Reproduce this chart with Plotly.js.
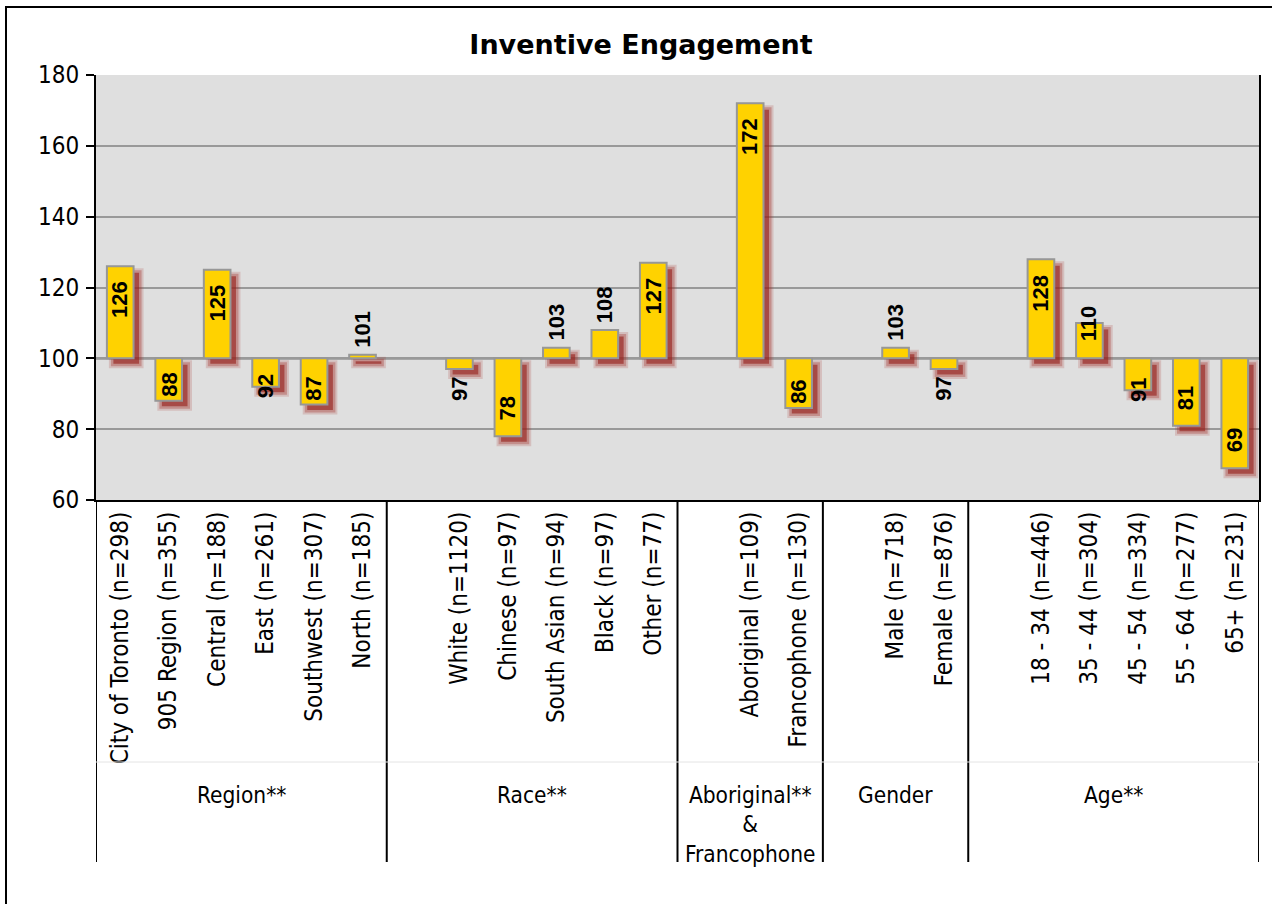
<!DOCTYPE html>
<html>
<head>
<meta charset="utf-8">
<script src="https://cdn.plot.ly/plotly-3.0.1.min.js"></script>
<style>
  html, body { margin: 0; padding: 0; background: #ffffff; }
  #chart { width: 1272px; height: 904px; }
</style>
</head>
<body>
<div id="chart"></div>
<script>
// ---- data ----
const groups = ['Region**', 'Race**', 'Aboriginal**<br>&amp;<br>Francophone', 'Gender', 'Age**'];
const categories = [
  'City of Toronto (n=298)', '905 Region (n=355)', 'Central (n=188)', 'East (n=261)', 'Southwest (n=307)', 'North (n=185)',
  'White (n=1120)', 'Chinese (n=97)', 'South Asian (n=94)', 'Black (n=97)', 'Other (n=77)',
  'Aboriginal (n=109)', 'Francophone (n=130)',
  'Male (n=718)', 'Female (n=876)',
  '18 - 34 (n=446)', '35 - 44 (n=304)', '45 - 54 (n=334)', '55 - 64 (n=277)', '65+ (n=231)'
];
const categoryGroup = [0,0,0,0,0,0, 1,1,1,1,1, 2,2, 3,3, 4,4,4,4,4];
const values = [126, 88, 125, 92, 87, 101, 97, 78, 103, 108, 127, 172, 86, 103, 97, 128, 110, 91, 81, 69];
const baseline = 100;
const yTicks = [60, 80, 100, 120, 140, 160, 180];

// ---- layout geometry ----
const W = 1272, H = 904;
const margin = {l: 96, r: 13, t: 75, b: 404};
const plotW = W - margin.l - margin.r;
const plotH = H - margin.t - margin.b;

// slot positions with a gap slot before every group except the first
const slots = [];
const gapSlots = [];
let s = -1;
categories.forEach((c, i) => {
  if (i > 0 && categoryGroup[i] !== categoryGroup[i - 1]) { s += 1; gapSlots.push(s); }
  s += 1;
  slots.push(s);
});
const nSlots = s + 1;
const xRange = [-0.5, nSlots - 0.5];
const yRange = [yTicks[0], yTicks[yTicks.length - 1]];
const pxX = plotW / nSlots;
const pxY = plotH / (yRange[1] - yRange[0]);

const barW = 0.55;
const shX = 6 / pxX, shY = 6 / pxY;

const lo = values.map(v => Math.min(v, baseline));
const hi = values.map(v => Math.max(v, baseline));

function shadowTrace(grow, color) {
  return {
    type: 'bar', x: slots,
    base: lo.map(l => l - shY - grow / pxY),
    y: values.map((v, i) => hi[i] - lo[i] + 2 * grow / pxY),
    width: barW + 2 * grow / pxX, offset: -barW / 2 + shX - grow / pxX,
    marker: {color: color, line: {width: 0}},
    hoverinfo: 'skip', showlegend: false
  };
}
const shadowOuter = shadowTrace(4, 'rgba(165,45,40,0.18)');
const shadowMid = shadowTrace(2, 'rgba(160,40,35,0.32)');
const shadowCore = shadowTrace(-0.5, 'rgba(150,32,28,0.62)');
const mainBars = {
  type: 'bar', x: slots,
  base: baseline,
  y: values.map(v => v - baseline),
  width: barW, offset: -barW / 2,
  marker: {color: '#FFD200', line: {color: '#979797', width: 2}},
  hoverinfo: 'skip', showlegend: false
};

// data labels (rotated), placed in pixels relative to the bar end
const labelFont = {family: 'Liberation Sans, Arial, sans-serif', size: 22, color: '#000000'};
const annotations = values.map((v, i) => {
  const barLen = Math.abs(v - baseline) * pxY;
  const tw = String(v).length * 11.7;
  const dir = v >= baseline ? 1 : -1;
  let shift;
  if (barLen >= tw + 32) shift = -(tw / 2 + 16);
  else if (barLen >= tw + 12) shift = -(tw / 2 + 4);
  else if (barLen >= tw - 2) shift = 0;
  else shift = tw / 2 + 8;
  return {
    x: slots[i], y: v, xref: 'x', yref: 'y',
    text: '<b>' + v + '</b>', textangle: -90, showarrow: false,
    xanchor: 'center', yanchor: 'middle', yshift: dir * shift,
    font: labelFont
  };
});

// group labels
const fam = 'DejaVu Sans Condensed, DejaVu Sans, sans-serif';
const groupFont = {family: fam, size: 22.5, color: '#000000'};
groups.forEach((g, gi) => {
  const members = slots.filter((sl, i) => categoryGroup[i] === gi);
  const first = gi === 0 ? members[0] : members[0] - 1;
  const center = (first + members[members.length - 1]) / 2;
  annotations.push({
    x: center, y: (margin.t + plotH - 780) / plotH, xref: 'x', yref: 'paper',
    text: g, showarrow: false, xanchor: 'center', yanchor: 'top', align: 'center',
    font: groupFont
  });
});

// shapes: baseline, group separators, faint divider, outer frame
const shapes = [];
shapes.push({type: 'line', xref: 'paper', yref: 'y', x0: 0, x1: 1, y0: baseline, y1: baseline,
  line: {color: '#000000', width: 2}, layer: 'below'});
const sepBottom = -(862 - margin.t - plotH) / plotH;
const boundaries = [-0.5].concat(gapSlots.map(g => g - 0.5), [nSlots - 0.5]);
boundaries.forEach(b => {
  shapes.push({type: 'line', xref: 'x', yref: 'paper', x0: b, x1: b, y0: sepBottom, y1: 0,
    line: {color: '#000000', width: 2}});
});
shapes.push({type: 'line', xref: 'x', yref: 'paper', x0: -0.5, x1: nSlots - 0.5,
  y0: -(762 - margin.t - plotH) / plotH, y1: -(762 - margin.t - plotH) / plotH,
  line: {color: '#e4e4e4', width: 1}});
shapes.push({type: 'rect', xref: 'paper', yref: 'paper',
  x0: (6 - margin.l) / plotW, x1: 1.2, y0: -1.5, y1: (margin.t + plotH - 7) / plotH,
  line: {color: '#000000', width: 2}, fillcolor: 'rgba(0,0,0,0)'});

const layout = {
  width: W, height: H,
  margin: margin,
  paper_bgcolor: '#ffffff',
  plot_bgcolor: '#dfdfdf',
  barmode: 'overlay',
  showlegend: false,
  title: {
    text: '<b>Inventive Engagement</b>',
    font: {family: 'DejaVu Sans, sans-serif', size: 27, color: '#000000'},
    x: 641 / W, xref: 'container', xanchor: 'center',
    y: 1 - 45 / H, yref: 'container', yanchor: 'middle'
  },
  xaxis: {
    range: xRange, tickmode: 'array', tickvals: slots, ticktext: categories,
    tickangle: -90, ticks: '', showgrid: false, zeroline: false,
    showline: true, linecolor: '#000000', linewidth: 2,
    tickfont: {family: fam, size: 24, color: '#000000'}, ticklabelstandoff: 0, fixedrange: true
  },
  yaxis: {
    range: yRange, tickmode: 'array', tickvals: yTicks,
    ticks: 'outside', ticklen: 8, tickwidth: 2, tickcolor: '#000000',
    showgrid: true, gridcolor: '#999999', gridwidth: 2, zeroline: false,
    showline: true, linecolor: '#000000', linewidth: 2, mirror: true,
    tickfont: {family: fam, size: 24, color: '#000000'},
    ticklabelstandoff: 2, fixedrange: true
  },
  annotations: annotations,
  shapes: shapes
};

Plotly.newPlot('chart', [shadowOuter, shadowMid, shadowCore, mainBars], layout, {displayModeBar: false, staticPlot: true});
</script>
</body>
</html>
